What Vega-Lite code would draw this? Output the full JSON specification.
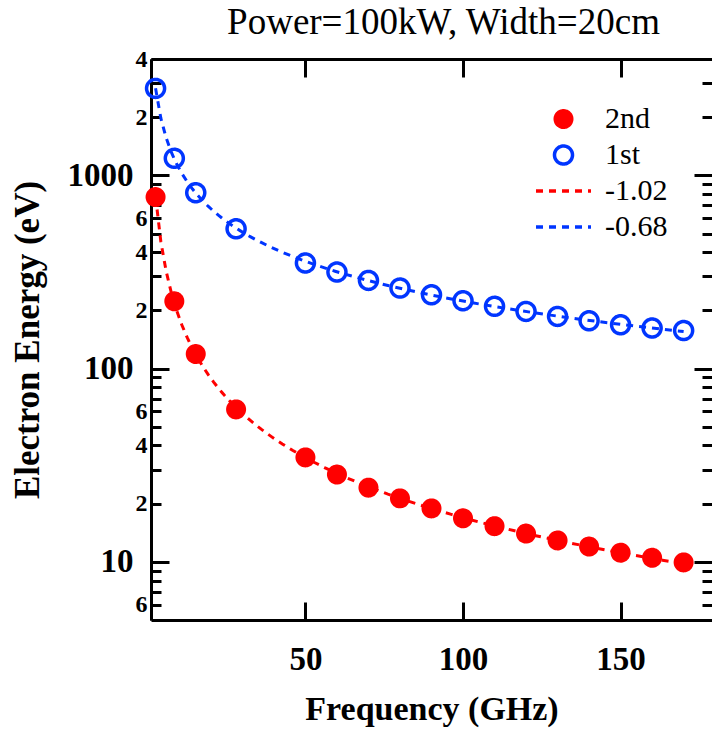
{
  "$schema": "https://vega.github.io/schema/vega-lite/v6.json",
  "autosize": {"type": "none"},
  "padding": {"left": 151, "top": 59, "right": 0, "bottom": 109},
  "width": 561,
  "height": 561,
  "background": "white",
  "config": {
    "view": {"stroke": null},
    "axis": {
      "grid": false,
      "domainColor": "black",
      "domainWidth": 3,
      "tickColor": "black",
      "tickWidth": 3,
      "labelColor": "black",
      "titleColor": "black",
      "labelFont": "Liberation Serif, Times New Roman, serif",
      "titleFont": "Liberation Serif, Times New Roman, serif",
      "labelFontWeight": "bold",
      "titleFontWeight": "bold",
      "labelFlush": false,
      "labelOverlap": false,
      "labelBound": false
    },
    "legend": {
      "labelFont": "Liberation Serif, DejaVu Serif",
      "labelFontSize": 30,
      "labelFontWeight": 400,
      "labelColor": "black",
      "labelLimit": 300,
      "padding": 0,
      "symbolStrokeWidth": 3.5,
      "symbolOpacity": 1
    }
  },
  "title": {
    "text": "Power=100kW, Width=20cm",
    "font": "Liberation Serif, DejaVu Serif",
    "fontSize": 37,
    "fontWeight": 400,
    "color": "black",
    "anchor": "middle",
    "offset": 5,
    "dx": 12
  },
  "data": {
    "values": [
      {"f": 2.45, "E": 772, "series": "2nd"},
      {"f": 8.4, "E": 223, "series": "2nd"},
      {"f": 15.2, "E": 119, "series": "2nd"},
      {"f": 28, "E": 61.5, "series": "2nd"},
      {"f": 50, "E": 34.7, "series": "2nd"},
      {"f": 60, "E": 28.3, "series": "2nd"},
      {"f": 70, "E": 24.2, "series": "2nd"},
      {"f": 80, "E": 21.3, "series": "2nd"},
      {"f": 90, "E": 18.9, "series": "2nd"},
      {"f": 100, "E": 16.8, "series": "2nd"},
      {"f": 110, "E": 15.3, "series": "2nd"},
      {"f": 120, "E": 14.0, "series": "2nd"},
      {"f": 130, "E": 12.9, "series": "2nd"},
      {"f": 140, "E": 12.0, "series": "2nd"},
      {"f": 150, "E": 11.15, "series": "2nd"},
      {"f": 160, "E": 10.5, "series": "2nd"},
      {"f": 170, "E": 9.93, "series": "2nd"},
      {"f": 2.45, "E": 2818, "series": "1st"},
      {"f": 8.4, "E": 1225, "series": "1st"},
      {"f": 15.2, "E": 813, "series": "1st"},
      {"f": 28, "E": 529, "series": "1st"},
      {"f": 50, "E": 352, "series": "1st"},
      {"f": 60, "E": 316, "series": "1st"},
      {"f": 70, "E": 286, "series": "1st"},
      {"f": 80, "E": 261, "series": "1st"},
      {"f": 90, "E": 241, "series": "1st"},
      {"f": 100, "E": 224.5, "series": "1st"},
      {"f": 110, "E": 210, "series": "1st"},
      {"f": 120, "E": 197.6, "series": "1st"},
      {"f": 130, "E": 186.2, "series": "1st"},
      {"f": 140, "E": 176.8, "series": "1st"},
      {"f": 150, "E": 168.6, "series": "1st"},
      {"f": 160, "E": 162.2, "series": "1st"},
      {"f": 170, "E": 157.4, "series": "1st"}
    ]
  },
  "resolve": {"axis": {"x": "independent", "y": "independent"}},
  "layer": [
    {
      "transform": [
        {"filter": "datum.series === '2nd'"},
        {"regression": "E", "on": "f", "method": "pow"}
      ],
      "mark": {"type": "line", "color": "#ff0000", "strokeWidth": 3, "strokeDash": [7, 6]},
      "encoding": {
        "x": {
          "field": "f", "type": "quantitative",
          "scale": {"domain": [1, 179], "nice": false, "zero": false},
          "axis": {
            "orient": "bottom", "values": [50, 100, 150], "tickSize": -18,
            "labelFontSize": 33, "labelPadding": 41, "format": "d",
            "title": "Frequency (GHz)", "titleFontSize": 34, "titlePadding": 16
          }
        },
        "y": {
          "field": "E", "type": "quantitative",
          "scale": {"type": "log", "domain": [5, 4000], "nice": false},
          "axis": {
            "orient": "left", "values": [10, 100, 1000], "tickSize": -18,
            "labelFontSize": 33, "labelPadding": 36, "format": "d",
            "title": "Electron Energy (eV)", "titleFontSize": 35, "titlePadding": 22
          }
        }
      }
    },
    {
      "transform": [
        {"filter": "datum.series === '1st'"},
        {"regression": "E", "on": "f", "method": "pow"}
      ],
      "mark": {"type": "line", "color": "#0035ff", "strokeWidth": 3, "strokeDash": [7, 6]},
      "encoding": {
        "x": {
          "field": "f", "type": "quantitative",
          "scale": {"domain": [1, 179], "nice": false, "zero": false},
          "axis": {"orient": "top", "values": [50, 100, 150], "tickSize": -18, "labels": false, "title": null}
        },
        "y": {
          "field": "E", "type": "quantitative",
          "scale": {"type": "log", "domain": [5, 4000], "nice": false},
          "axis": {
            "orient": "left",
            "values": [6, 7, 8, 9, 20, 30, 40, 50, 60, 70, 80, 90, 200, 300, 400, 500, 600, 700, 800, 900, 2000, 3000, 4000],
            "tickSize": -10, "labelFontSize": 24, "labelPadding": 14,
            "labelExpr": "indexof([6, 20, 40, 60, 200, 400, 600, 2000, 4000], datum.value) >= 0 ? slice(format(datum.value, 'd'), 0, 1) : ''",
            "title": null
          }
        }
      }
    },
    {
      "transform": [{"filter": "datum.series === '2nd'"}],
      "mark": {"type": "point", "filled": false, "strokeWidth": 3.5, "opacity": 1},
      "encoding": {
        "x": {
          "field": "f", "type": "quantitative",
          "scale": {"domain": [1, 179], "nice": false, "zero": false},
          "axis": null
        },
        "y": {
          "field": "E", "type": "quantitative",
          "scale": {"type": "log", "domain": [5, 4000], "nice": false},
          "axis": {"orient": "right", "values": [10, 100, 1000], "tickSize": -18, "labels": false, "domain": false, "title": null}
        },
        "fill": {
          "field": "series", "type": "nominal",
          "scale": {"domain": ["2nd", "1st", "-1.02", "-0.68"], "range": ["#ff0000", "transparent", "transparent", "transparent"]},
          "legend": {"orient": "none", "legendX": 383, "legendY": 45, "title": null, "clipHeight": 30, "rowPadding": 6, "labelOffset": 12}
        },
        "stroke": {
          "field": "series", "type": "nominal",
          "scale": {"domain": ["2nd", "1st", "-1.02", "-0.68"], "range": ["#ff0000", "#0035ff", "#ff0000", "#0035ff"]},
          "legend": {"orient": "none", "legendX": 383, "legendY": 45, "title": null, "clipHeight": 30, "rowPadding": 6, "labelOffset": 12}
        },
        "shape": {
          "field": "series", "type": "nominal",
          "scale": {"domain": ["2nd", "1st", "-1.02", "-0.68"], "range": ["circle", "circle", "stroke", "stroke"]},
          "legend": {"orient": "none", "legendX": 383, "legendY": 45, "title": null, "clipHeight": 30, "rowPadding": 6, "labelOffset": 12}
        },
        "size": {
          "field": "series", "type": "nominal",
          "scale": {"type": "ordinal", "domain": ["2nd", "1st", "-1.02", "-0.68"], "range": [272, 324, 3025, 3025]},
          "legend": {"orient": "none", "legendX": 383, "legendY": 45, "title": null, "clipHeight": 30, "rowPadding": 6, "labelOffset": 12}
        },
        "strokeDash": {
          "field": "series", "type": "nominal",
          "scale": {"domain": ["2nd", "1st", "-1.02", "-0.68"], "range": [[1, 0], [1, 0], [7, 6], [7, 6]]},
          "legend": {"orient": "none", "legendX": 383, "legendY": 45, "title": null, "clipHeight": 30, "rowPadding": 6, "labelOffset": 12}
        }
      }
    },
    {
      "transform": [{"filter": "datum.series === '1st'"}],
      "mark": {"type": "point", "filled": false, "strokeWidth": 3.5, "opacity": 1},
      "encoding": {
        "x": {
          "field": "f", "type": "quantitative",
          "scale": {"domain": [1, 179], "nice": false, "zero": false},
          "axis": null
        },
        "y": {
          "field": "E", "type": "quantitative",
          "scale": {"type": "log", "domain": [5, 4000], "nice": false},
          "axis": {
            "orient": "right",
            "values": [6, 7, 8, 9, 20, 30, 40, 50, 60, 70, 80, 90, 200, 300, 400, 500, 600, 700, 800, 900, 2000, 3000, 4000],
            "tickSize": -10, "labels": false, "domain": false, "title": null
          }
        },
        "fill": {
          "field": "series", "type": "nominal",
          "scale": {"domain": ["2nd", "1st", "-1.02", "-0.68"], "range": ["#ff0000", "transparent", "transparent", "transparent"]},
          "legend": {"orient": "none", "legendX": 383, "legendY": 45, "title": null, "clipHeight": 30, "rowPadding": 6, "labelOffset": 12}
        },
        "stroke": {
          "field": "series", "type": "nominal",
          "scale": {"domain": ["2nd", "1st", "-1.02", "-0.68"], "range": ["#ff0000", "#0035ff", "#ff0000", "#0035ff"]},
          "legend": {"orient": "none", "legendX": 383, "legendY": 45, "title": null, "clipHeight": 30, "rowPadding": 6, "labelOffset": 12}
        },
        "shape": {
          "field": "series", "type": "nominal",
          "scale": {"domain": ["2nd", "1st", "-1.02", "-0.68"], "range": ["circle", "circle", "stroke", "stroke"]},
          "legend": {"orient": "none", "legendX": 383, "legendY": 45, "title": null, "clipHeight": 30, "rowPadding": 6, "labelOffset": 12}
        },
        "size": {
          "field": "series", "type": "nominal",
          "scale": {"type": "ordinal", "domain": ["2nd", "1st", "-1.02", "-0.68"], "range": [272, 324, 3025, 3025]},
          "legend": {"orient": "none", "legendX": 383, "legendY": 45, "title": null, "clipHeight": 30, "rowPadding": 6, "labelOffset": 12}
        },
        "strokeDash": {
          "field": "series", "type": "nominal",
          "scale": {"domain": ["2nd", "1st", "-1.02", "-0.68"], "range": [[1, 0], [1, 0], [7, 6], [7, 6]]},
          "legend": {"orient": "none", "legendX": 383, "legendY": 45, "title": null, "clipHeight": 30, "rowPadding": 6, "labelOffset": 12}
        }
      }
    }
  ]
}
